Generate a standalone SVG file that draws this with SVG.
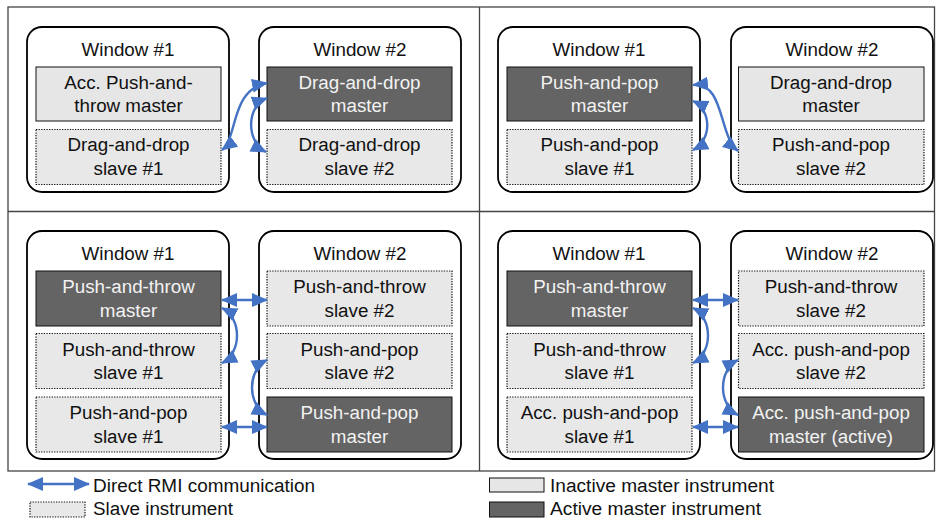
<svg xmlns="http://www.w3.org/2000/svg" width="936" height="521" viewBox="0 0 936 521">
<style>
text{font-family:"Liberation Sans",Arial,sans-serif;font-size:18.8px;fill:#111;text-anchor:middle}
.win{fill:#fff;stroke:#000;stroke-width:1.8}
.inact{fill:#e6e6e6;stroke:#111;stroke-width:1}
.act{fill:#646464;stroke:#111;stroke-width:1}
.slave{fill:#e8e8e8;stroke:#111;stroke-width:1.2;stroke-dasharray:1.3 1.3}
text.w{fill:#f2f2f2}
text.lg{text-anchor:start;font-size:18px;fill:#111}
.c{fill:none;stroke:#4472C4;stroke-width:2.4;marker-start:url(#ah);marker-end:url(#ah)}
.frame{fill:none;stroke:#444;stroke-width:1.3}
</style>
<defs>
<marker id="ah" markerUnits="userSpaceOnUse" markerWidth="17" markerHeight="15" refX="15" refY="7.5" orient="auto-start-reverse" viewBox="0 0 17 15">
<path d="M0,0.5 L16,7.5 L0,14.5 z" fill="#4472C4"/>
</marker>
</defs>
<g id="frame">
<rect class="frame" x="8" y="7" width="926.5" height="464"/>
<line class="frame" x1="479.5" y1="7" x2="479.5" y2="471"/>
<line class="frame" x1="8" y1="211.5" x2="934.5" y2="211.5"/>
</g>

<!-- Panel 1 -->
<g id="p1w1">
<rect class="win" x="27" y="27" width="202" height="165" rx="15"/>
<text x="128" y="56">Window #1</text>
<rect class="inact" x="36" y="67" width="185" height="54"/>
<text x="128.5" y="88.5">Acc. Push-and-</text><text x="128.5" y="112">throw master</text>
<rect class="slave" x="36" y="129.5" width="185" height="55"/>
<text x="128.5" y="151">Drag-and-drop</text><text x="128.5" y="174.5">slave #1</text>
</g>
<g id="p1w2">
<rect class="win" x="259" y="27" width="202" height="165" rx="15"/>
<text x="360" y="56">Window #2</text>
<rect class="act" x="267" y="67" width="185" height="54"/>
<text class="w" x="359.5" y="88.5">Drag-and-drop</text><text class="w" x="359.5" y="112">master</text>
<rect class="slave" x="267" y="129.5" width="185" height="55"/>
<text x="359.5" y="151">Drag-and-drop</text><text x="359.5" y="174.5">slave #2</text>
</g>

<!-- Panel 2 -->
<g id="p2w1">
<rect class="win" x="498" y="27" width="202" height="165" rx="15"/>
<text x="599" y="56">Window #1</text>
<rect class="act" x="507" y="67" width="185" height="54"/>
<text class="w" x="599.5" y="88.5">Push-and-pop</text><text class="w" x="599.5" y="112">master</text>
<rect class="slave" x="507" y="129.5" width="185" height="55"/>
<text x="599.5" y="151">Push-and-pop</text><text x="599.5" y="174.5">slave #1</text>
</g>
<g id="p2w2">
<rect class="win" x="731" y="27" width="202" height="165" rx="15"/>
<text x="832" y="56">Window #2</text>
<rect class="inact" x="738.5" y="67" width="185.5" height="54"/>
<text x="831" y="88.5">Drag-and-drop</text><text x="831" y="112">master</text>
<rect class="slave" x="738.5" y="129.5" width="185.5" height="55"/>
<text x="831" y="151">Push-and-pop</text><text x="831" y="174.5">slave #2</text>
</g>

<!-- Panel 3 -->
<g id="p3w1">
<rect class="win" x="27" y="231" width="202" height="228" rx="15"/>
<text x="128" y="260">Window #1</text>
<rect class="act" x="36" y="271" width="185" height="55"/>
<text class="w" x="128.5" y="293">Push-and-throw</text><text class="w" x="128.5" y="316.5">master</text>
<rect class="slave" x="36" y="333.5" width="185" height="55"/>
<text x="128.5" y="355.5">Push-and-throw</text><text x="128.5" y="379">slave #1</text>
<rect class="slave" x="36" y="397" width="185" height="55"/>
<text x="128.5" y="419">Push-and-pop</text><text x="128.5" y="442.5">slave #1</text>
</g>
<g id="p3w2">
<rect class="win" x="259" y="231" width="202" height="228" rx="15"/>
<text x="360" y="260">Window #2</text>
<rect class="slave" x="267" y="271" width="185" height="55"/>
<text x="359.5" y="293">Push-and-throw</text><text x="359.5" y="316.5">slave #2</text>
<rect class="slave" x="267" y="333.5" width="185" height="55"/>
<text x="359.5" y="355.5">Push-and-pop</text><text x="359.5" y="379">slave #2</text>
<rect class="act" x="267" y="397" width="185" height="55"/>
<text class="w" x="359.5" y="419">Push-and-pop</text><text class="w" x="359.5" y="442.5">master</text>
</g>

<!-- Panel 4 -->
<g id="p4w1">
<rect class="win" x="498" y="231" width="202" height="228" rx="15"/>
<text x="599" y="260">Window #1</text>
<rect class="act" x="507" y="271" width="185" height="55"/>
<text class="w" x="599.5" y="293">Push-and-throw</text><text class="w" x="599.5" y="316.5">master</text>
<rect class="slave" x="507" y="333.5" width="185" height="55"/>
<text x="599.5" y="355.5">Push-and-throw</text><text x="599.5" y="379">slave #1</text>
<rect class="slave" x="507" y="397" width="185" height="55"/>
<text x="599.5" y="419">Acc. push-and-pop</text><text x="599.5" y="442.5">slave #1</text>
</g>
<g id="p4w2">
<rect class="win" x="731" y="231" width="202" height="228" rx="15"/>
<text x="832" y="260">Window #2</text>
<rect class="slave" x="738.5" y="271" width="185.5" height="55"/>
<text x="831" y="293">Push-and-throw</text><text x="831" y="316.5">slave #2</text>
<rect class="slave" x="738.5" y="333.5" width="185.5" height="55"/>
<text x="831" y="355.5">Acc. push-and-pop</text><text x="831" y="379">slave #2</text>
<rect class="act" x="738.5" y="397" width="185.5" height="55"/>
<text class="w" x="831" y="419">Acc. push-and-pop</text><text class="w" x="831" y="442.5">master (active)</text>
</g>

<g id="connectors">
<path class="c" d="M222,150 C238,138 230,90 267,83"/>
<path class="c" d="M267,98 C246,106 246,142 266,152"/>
<path class="c" d="M693,85 C725,82 718,135 738,151"/>
<path class="c" d="M693,101 C712,110 712,140 693,150"/>
<path class="c" d="M222,300 L267,300"/>
<path class="c" d="M222,308 C242,318 242,353 222,363"/>
<path class="c" d="M267,360 C247,370 247,405 267,415"/>
<path class="c" d="M222,427 L267,427"/>
<path class="c" d="M693,300 L738,300"/>
<path class="c" d="M693,308 C713,318 713,353 693,363"/>
<path class="c" d="M738,360 C718,370 718,405 738,415"/>
<path class="c" d="M693,427 L738,427"/>
</g>

<g id="legend">
<path class="c" d="M28,484 L89,484"/>
<text class="lg" x="93" y="492" textLength="222" lengthAdjust="spacingAndGlyphs">Direct RMI communication</text>
<rect class="slave" x="30" y="502" width="55" height="15"/>
<text class="lg" x="93" y="515" textLength="140" lengthAdjust="spacingAndGlyphs">Slave instrument</text>
<rect class="inact" x="489.5" y="478" width="54.5" height="14"/>
<text class="lg" x="550" y="492" textLength="224" lengthAdjust="spacingAndGlyphs">Inactive master instrument</text>
<rect class="act" x="489.5" y="502" width="54.5" height="15"/>
<text class="lg" x="550" y="515" textLength="211" lengthAdjust="spacingAndGlyphs">Active master instrument</text>
</g>
</svg>
